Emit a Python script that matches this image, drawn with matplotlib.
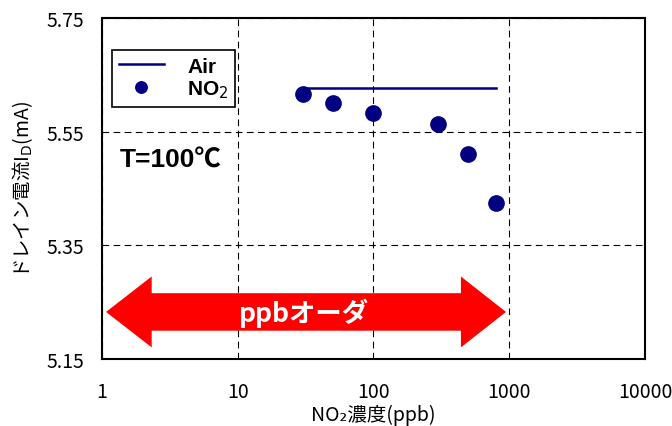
import matplotlib
matplotlib.use("Agg")
import matplotlib.pyplot as plt
from matplotlib.patches import Polygon

plt.rcParams['font.family'] = ['Noto Sans CJK JP', 'DejaVu Sans']

# データ
no2_ppb = [30, 50, 100, 300, 500, 800]
no2_id = [5.616, 5.601, 5.583, 5.563, 5.511, 5.425]
air_ppb = [30, 800]
air_id = [5.627, 5.627]

xticks = [1, 10, 100, 1000, 10000]
xtick_labels = ['1', '10', '100', '1000', '10000']
yticks = [5.15, 5.35, 5.55, 5.75]

navy = '#000080'

fig = plt.figure(figsize=(6.72, 4.27), dpi=100)
ax = fig.add_axes([0.1518, 0.1569, 0.808, 0.7986])

ax.plot(air_ppb, air_id, color=navy, lw=1.8, label='Air', zorder=3)
ax.plot(no2_ppb, no2_id, 'o', color=navy, ms=11, label='NO$_2$', zorder=3)

ax.set_xscale('log')
ax.set_xlim(1, 10000)
ax.set_ylim(5.15, 5.75)
ax.set_xticks(xticks)
ax.set_xticklabels(xtick_labels)
ax.minorticks_off()
ax.set_yticks(yticks)
ax.set_yticklabels([f'{v:.2f}' for v in yticks])
ax.tick_params(length=0, labelsize=14, pad=13)
ax.tick_params(axis='x', pad=16)
ax.grid(True, color='black', ls=(0, (6, 4)), lw=0.8)
for s in ax.spines.values():
    s.set_linewidth(1.5)

ax.set_xlabel('NO₂濃度(ppb)', fontsize=14, labelpad=1)
ax.set_ylabel('ドレイン電流I$_\\mathrm{D}$(mA)', fontsize=14, labelpad=8)

leg = ax.legend(loc='upper left', bbox_to_anchor=(0.019, 0.905),
                fancybox=False, edgecolor='black', framealpha=1,
                prop={'family': ['Liberation Sans', 'DejaVu Sans'],
                      'weight': 'bold', 'size': 15},
                handlelength=2.2, borderpad=0.3, labelspacing=0.15,
                handletextpad=1.1, borderaxespad=0, markerscale=0.75)
leg.get_frame().set_linewidth(1.2)

ax.text(0.033, 0.585, 'T=100℃', transform=ax.transAxes, fontsize=19,
        fontweight='bold', family=['Liberation Sans', 'Noto Sans CJK JP'],
        va='center', ha='left')

# 赤い両矢印 (軸座標)
yc, hs, hh = 0.138, 0.055, 0.104
xl, xlb, xrb, xr = 0.0074, 0.0915, 0.661, 0.744
arrow = Polygon([(xl, yc), (xlb, yc + hh), (xlb, yc + hs), (xrb, yc + hs),
                 (xrb, yc + hh), (xr, yc), (xrb, yc - hh), (xrb, yc - hs),
                 (xlb, yc - hs), (xlb, yc - hh)],
                closed=True, transform=ax.transAxes, color='#ff0000',
                lw=0, zorder=4)
ax.add_patch(arrow)
ax.text(0.372, yc, 'ppbオーダ', transform=ax.transAxes, color='white',
        fontsize=19, fontweight='bold', ha='center', va='center', zorder=5)

fig.savefig('out.png', dpi=100)
